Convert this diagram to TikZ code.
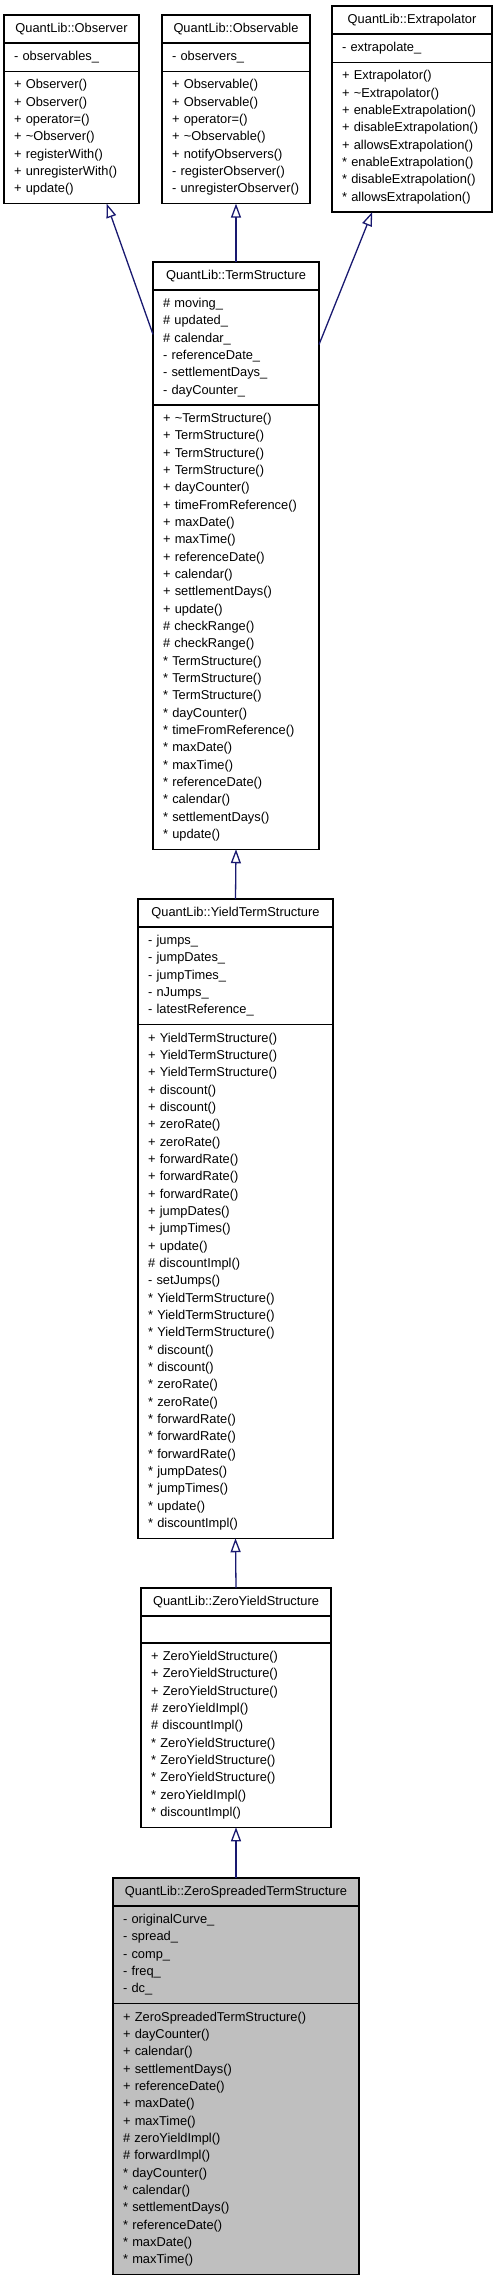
\documentclass[tikz,border=0pt]{standalone}
\usepackage{fontspec}
\setmainfont{Liberation Sans}
\usepackage{tikz}
\usetikzlibrary{arrows.meta, positioning}
\definecolor{edgeblue}{RGB}{25,25,112}
\definecolor{currentbg}{RGB}{191,191,191}

\begin{document}
\begin{tikzpicture}[x=1pt, y=-1pt,
    part/.style={rectangle, draw, line width=1.1pt, outer sep=0pt, inner xsep=10pt, inner ysep=0pt, font=\fontsize{12.85}{17.33}\selectfont},
    head/.style={part, align=center, minimum height=28pt},
    attr/.style={part, align=left, minimum height=#1},
    ops/.style={part, align=left, minimum height=#1},
    inherit/.style={-{Triangle[open, length=14pt, width=10pt]}, line width=1.3pt, edgeblue}
]
\useasboundingbox (0,0) rectangle (496,2280);

\node[head, text width=115pt, anchor=north west] (observer) at (4,15) {QuantLib::Observer};
\node[attr=28.33pt, text width=115pt, below=0pt of observer] (observerattr) {- observables\_};
\node[ops=132.31pt, text width=115pt, below=0pt of observerattr] (observerops) {+ Observer()\\+ Observer()\\+ operator=()\\+ \textasciitilde Observer()\\+ registerWith()\\+ unregisterWith()\\+ update()};

\node[head, text width=128pt, anchor=north west] (observable) at (162,15) {QuantLib::Observable};
\node[attr=28.33pt, text width=128pt, below=0pt of observable] (observableattr) {- observers\_};
\node[ops=132.31pt, text width=128pt, below=0pt of observableattr] (observableops) {+ Observable()\\+ Observable()\\+ operator=()\\+ \textasciitilde Observable()\\+ notifyObservers()\\- registerObserver()\\- unregisterObserver()};

\node[head, text width=140pt, anchor=north west] (extrapolator) at (332,6) {QuantLib::Extrapolator};
\node[attr=28.33pt, text width=140pt, below=0pt of extrapolator] (extrapolatorattr) {- extrapolate\_};
\node[ops=149.64pt, text width=140pt, below=0pt of extrapolatorattr] (extrapolatorops) {+ Extrapolator()\\+ \textasciitilde Extrapolator()\\+ enableExtrapolation()\\+ disableExtrapolation()\\+ allowsExtrapolation()\\{*} enableExtrapolation()\\{*} disableExtrapolation()\\{*} allowsExtrapolation()};

\node[head, text width=146pt, anchor=north west] (term) at (153,262) {QuantLib::TermStructure};
\node[attr=114.98pt, text width=146pt, below=0pt of term] (termattr) {\# moving\_\\\# updated\_\\\# calendar\_\\- referenceDate\_\\- settlementDays\_\\- dayCounter\_};
\node[ops=444.25pt, text width=146pt, below=0pt of termattr] (termops) {+ \textasciitilde TermStructure()\\+ TermStructure()\\+ TermStructure()\\+ TermStructure()\\+ dayCounter()\\+ timeFromReference()\\+ maxDate()\\+ maxTime()\\+ referenceDate()\\+ calendar()\\+ settlementDays()\\+ update()\\\# checkRange()\\\# checkRange()\\{*} TermStructure()\\{*} TermStructure()\\{*} TermStructure()\\{*} dayCounter()\\{*} timeFromReference()\\{*} maxDate()\\{*} maxTime()\\{*} referenceDate()\\{*} calendar()\\{*} settlementDays()\\{*} update()};

\node[head, text width=175pt, anchor=north west] (yield) at (138,899) {QuantLib::YieldTermStructure};
\node[attr=97.65pt, text width=175pt, below=0pt of yield] (yieldattr) {- jumps\_\\- jumpDates\_\\- jumpTimes\_\\- nJumps\_\\- latestReference\_};
\node[ops=513.57pt, text width=175pt, below=0pt of yieldattr] (yieldops) {+ YieldTermStructure()\\+ YieldTermStructure()\\+ YieldTermStructure()\\+ discount()\\+ discount()\\+ zeroRate()\\+ zeroRate()\\+ forwardRate()\\+ forwardRate()\\+ forwardRate()\\+ jumpDates()\\+ jumpTimes()\\+ update()\\\# discountImpl()\\- setJumps()\\{*} YieldTermStructure()\\{*} YieldTermStructure()\\{*} YieldTermStructure()\\{*} discount()\\{*} discount()\\{*} zeroRate()\\{*} zeroRate()\\{*} forwardRate()\\{*} forwardRate()\\{*} forwardRate()\\{*} jumpDates()\\{*} jumpTimes()\\{*} update()\\{*} discountImpl()};

\node[head, text width=170pt, anchor=north west] (zeroyield) at (141,1588) {QuantLib::ZeroYieldStructure};
\node[attr=27pt, text width=170pt, below=0pt of zeroyield] (zeroyieldattr) {};
\node[ops=184.3pt, text width=170pt, below=0pt of zeroyieldattr] (zeroyieldops) {+ ZeroYieldStructure()\\+ ZeroYieldStructure()\\+ ZeroYieldStructure()\\\# zeroYieldImpl()\\\# discountImpl()\\{*} ZeroYieldStructure()\\{*} ZeroYieldStructure()\\{*} ZeroYieldStructure()\\{*} zeroYieldImpl()\\{*} discountImpl()};

\node[head, fill=currentbg, text width=226pt, anchor=north west] (spreaded) at (113,1878) {QuantLib::ZeroSpreadedTermStructure};
\node[attr=97.65pt, fill=currentbg, text width=226pt, below=0pt of spreaded] (spreadedattr) {- originalCurve\_\\- spread\_\\- comp\_\\- freq\_\\- dc\_};
\node[ops=270.95pt, fill=currentbg, text width=226pt, below=0pt of spreadedattr] (spreadedops) {+ ZeroSpreadedTermStructure()\\+ dayCounter()\\+ calendar()\\+ settlementDays()\\+ referenceDate()\\+ maxDate()\\+ maxTime()\\\# zeroYieldImpl()\\\# forwardImpl()\\{*} dayCounter()\\{*} calendar()\\{*} settlementDays()\\{*} referenceDate()\\{*} maxDate()\\{*} maxTime()};

\draw[inherit] (termattr.171) -- (observerops.-62);
\draw[inherit] (term.north) -- (observableops.south);
\draw[inherit] (termattr.2) -- (extrapolatorops.-118);
\draw[inherit] (yield.north) -- (termops.south);
\draw[inherit] (zeroyield.north) -- (yieldops.south);
\draw[inherit] (spreaded.north) -- (zeroyieldops.south);

\end{tikzpicture}
\end{document}
